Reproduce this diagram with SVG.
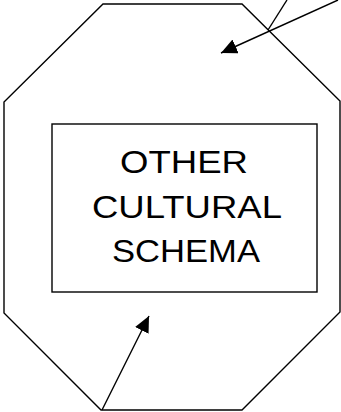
<svg xmlns="http://www.w3.org/2000/svg" width="341" height="412" viewBox="0 0 341 412">
<style>
.shape{fill:none;stroke:#000;stroke-width:1.4}
.line{fill:none;stroke:#000;stroke-width:1.4}
.label{font-family:"Liberation Sans",Arial,sans-serif;font-size:32px;fill:#000;text-anchor:middle}
</style>
<defs>
<marker id="ah" markerUnits="userSpaceOnUse" markerWidth="18" markerHeight="16" refX="16" refY="7.5" orient="auto">
<path d="M0,0 L16,7.5 L0,15 z" fill="#000"/>
</marker>
</defs>
<rect width="341" height="412" fill="#fff"/>
<g id="outer">
<polygon class="shape" points="103,4 242,4 340,101 340,312 242,410 101,410 4,313 4,102"/>
</g>
<g id="inner">
<rect class="shape" x="52" y="124" width="265" height="168"/>
<text class="label" x="184" y="173" textLength="128" lengthAdjust="spacingAndGlyphs">OTHER</text>
<text class="label" x="187" y="218" textLength="190" lengthAdjust="spacingAndGlyphs">CULTURAL</text>
<text class="label" x="186" y="262" textLength="148" lengthAdjust="spacingAndGlyphs">SCHEMA</text>
</g>
<g id="connectors">
<line class="line" x1="338" y1="0" x2="221" y2="53" marker-end="url(#ah)"/>
<line class="line" x1="287" y1="0" x2="268" y2="30"/>
<line class="line" x1="102" y1="410" x2="149" y2="316" marker-end="url(#ah)"/>
</g>
</svg>
